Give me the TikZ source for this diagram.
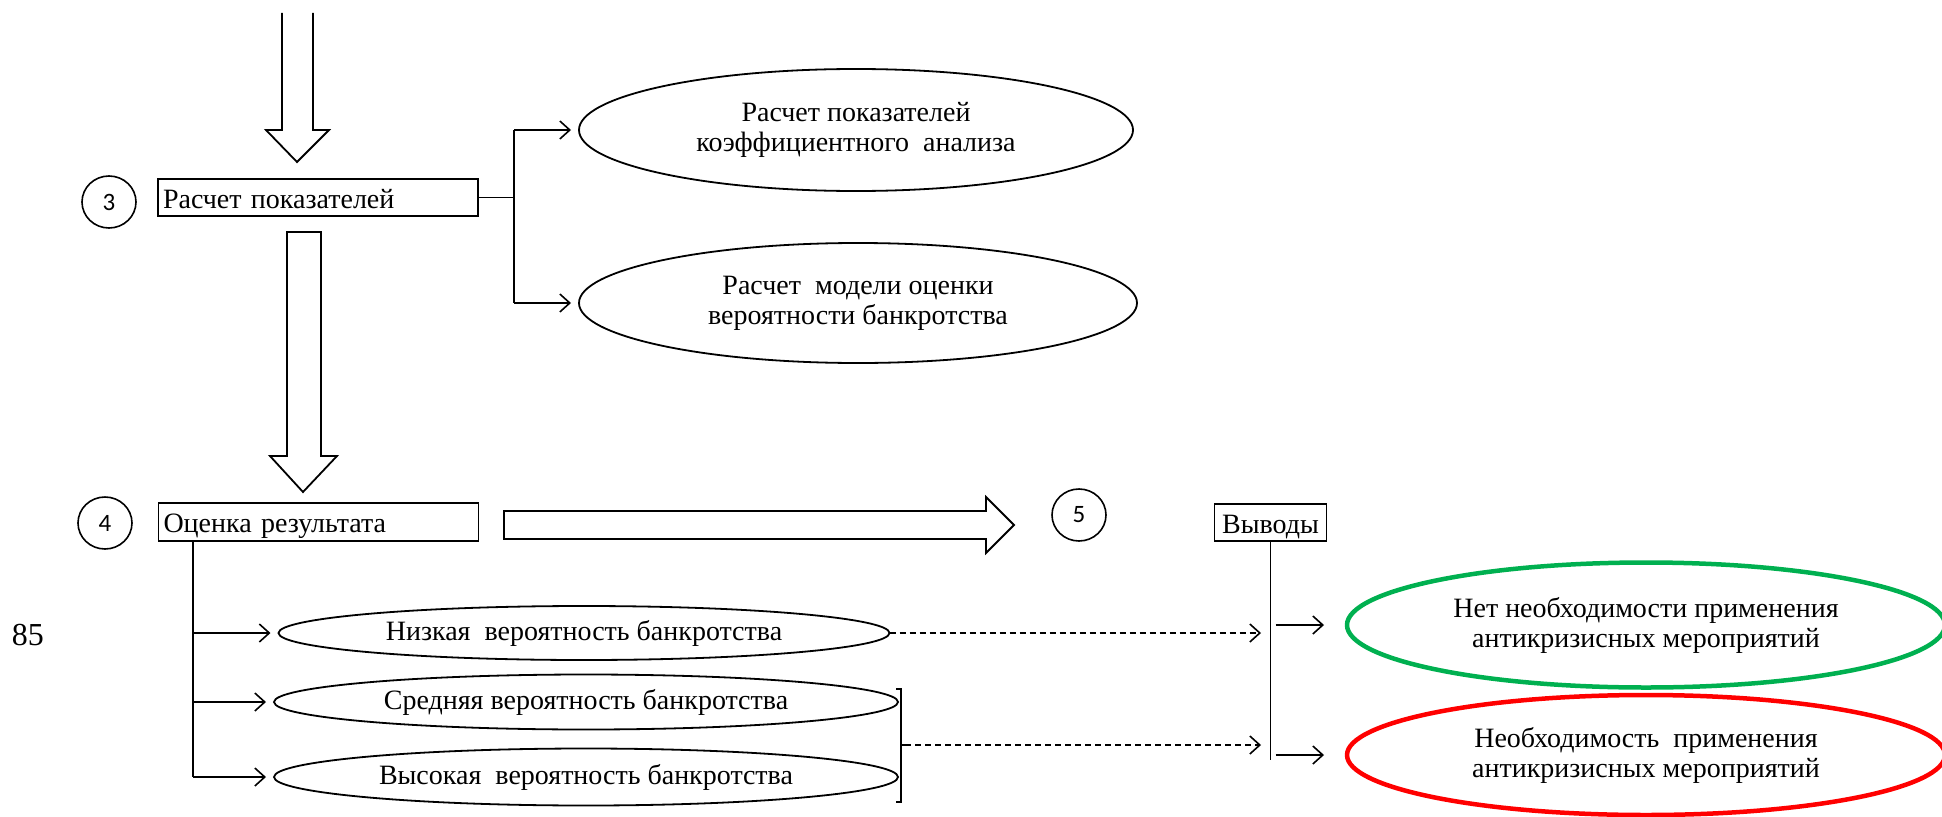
\documentclass[tikz,border=0pt]{standalone}
\usepackage{fontspec}
\setmainfont{Liberation Serif}
\newfontfamily\numfont{Carlito}
\usetikzlibrary{arrows.meta,shapes.geometric}
\begin{document}
\begin{tikzpicture}[x=1pt,y=-1pt,
  every node/.style={inner sep=0pt, outer sep=0pt},
  ln/.style={line width=1.8pt, draw=black},
  txt/.style={font=\fontsize{28}{30}\selectfont},
  numc/.style={draw, ellipse, line width=1.6pt, minimum width=54pt, minimum height=52pt, font=\numfont\fontsize{25}{25}\selectfont},
  rbox/.style={draw, line width=1.8pt, txt, anchor=north west, text height=23pt, text depth=2pt, minimum height=37pt, align=left},
  oval/.style={draw, ellipse, line width=1.8pt, txt, align=center},
  arr/.style={ln, -{Straight Barb[length=10pt, width=18pt, line width=1.6pt]}},
  darr/.style={arr, dash pattern=on 6pt off 4pt},
  blk/.style={line width=1.8pt, line join=miter}
]
\useasboundingbox (0,0) rectangle (1942,816);

% block arrows
\draw[blk] (282,13) -- (282,130) -- (266,130) -- (297,162) -- (329,130) -- (313,130) -- (313,13);
\draw[blk] (287,232) -- (287,456) -- (270,456) -- (303,492) -- (337,456) -- (321,456) -- (321,232) -- cycle;
\draw[blk] (504,511) -- (986,511) -- (986,497) -- (1014,525) -- (986,553) -- (986,539) -- (504,539) -- cycle;

% number circles
\node[numc] (c3) at (109,202) {3};
\node[numc] (c4) at (105,523) {4};
\node[numc] (c5) at (1079,515) {5};

% boxes
\node[rbox, text width=310pt, inner xsep=5pt] (b3) at (158,179) {Расчет показателей};
\node[rbox, text width=310pt, inner xsep=5pt, minimum height=38pt] (b4) at (158.5,503) {Оценка результата};
\node[rbox, text width=102pt, inner xsep=5pt, align=center] (vy) at (1214.5,504) {Выводы};

% top ellipses
\node[oval, minimum width=554pt, minimum height=122pt] (e1) at (856,130) {Расчет показателей\\коэффициентного\ \ анализа};
\node[oval, minimum width=558pt, minimum height=120pt] (e2) at (858,303) {Расчет\ \ модели оценки\\вероятности банкротства};

% bottom ellipses
\node[oval, minimum width=611pt, minimum height=54pt] (lo) at (584,633) {Низкая\ \ вероятность\ банкротства};
\node[oval, minimum width=624pt, minimum height=55pt] (md) at (586,702) {Средняя вероятность банкротства};
\node[oval, minimum width=624pt, minimum height=57pt] (hi) at (586,777) {Высокая\ \ вероятность банкротства};

% result ellipses
\definecolor{okgreen}{RGB}{0,176,80}
\node[oval, draw=okgreen, line width=4.5pt, minimum width=598pt, minimum height=125pt] (gr) at (1646,625) {Нет необходимости применения\\антикризисных мероприятий};
\node[oval, draw=red, line width=4.5pt, minimum width=598pt, minimum height=120pt] (rd) at (1646,755) {Необходимость\ \ применения\\антикризисных мероприятий};

% page number
\node[font=\fontsize{32}{32}\selectfont] (pg) at (28,635) {85};

% connectors step 3
\coordinate (sp1) at (514,130);
\coordinate (sp2) at (514,303);
\draw[ln] (b3.east) -- (b3.east -| sp1);
\draw[ln] (sp1) -- (sp2);
\draw[arr, shorten >=8pt] (sp1) -- (e1.west);
\draw[arr, shorten >=8pt] (sp2) -- (e2.west);

% connectors step 4
\coordinate (t4) at (193,541);
\coordinate (t4b) at (t4 |- hi.west);
\draw[ln] (t4) -- (t4b);
\draw[arr, shorten >=8pt] (t4 |- lo.west) -- (lo.west);
\draw[arr, shorten >=8pt] (t4 |- md.west) -- (md.west);
\draw[arr, shorten >=8pt] (t4b) -- (hi.west);

% bracket
\coordinate (bk1) at (896,689);
\coordinate (bk2) at (896,802);
\coordinate (bkm) at (901,745);
\draw[ln] (bk1) -- ++(5,0) -- ++(0,113) -- (bk2);
\draw[ln] (bkm) -- ++(4,0) coordinate (bko);

% conclusions
\coordinate (vyb) at (vy.south |- 0,760);
\draw[ln] (vy.south) -- (vyb);
\coordinate (d1) at (1261,633);
\coordinate (d2) at (1261,745);
\draw[darr] (lo.east) -- (d1);
\draw[darr] (bko) -- (d2);
\draw[arr, shorten <=5pt, shorten >=23pt] (vy.south |- gr.west) -- (gr.west);
\draw[arr, shorten <=5pt, shorten >=23pt] (vy.south |- rd.west) -- (rd.west);
\end{tikzpicture}
\end{document}
